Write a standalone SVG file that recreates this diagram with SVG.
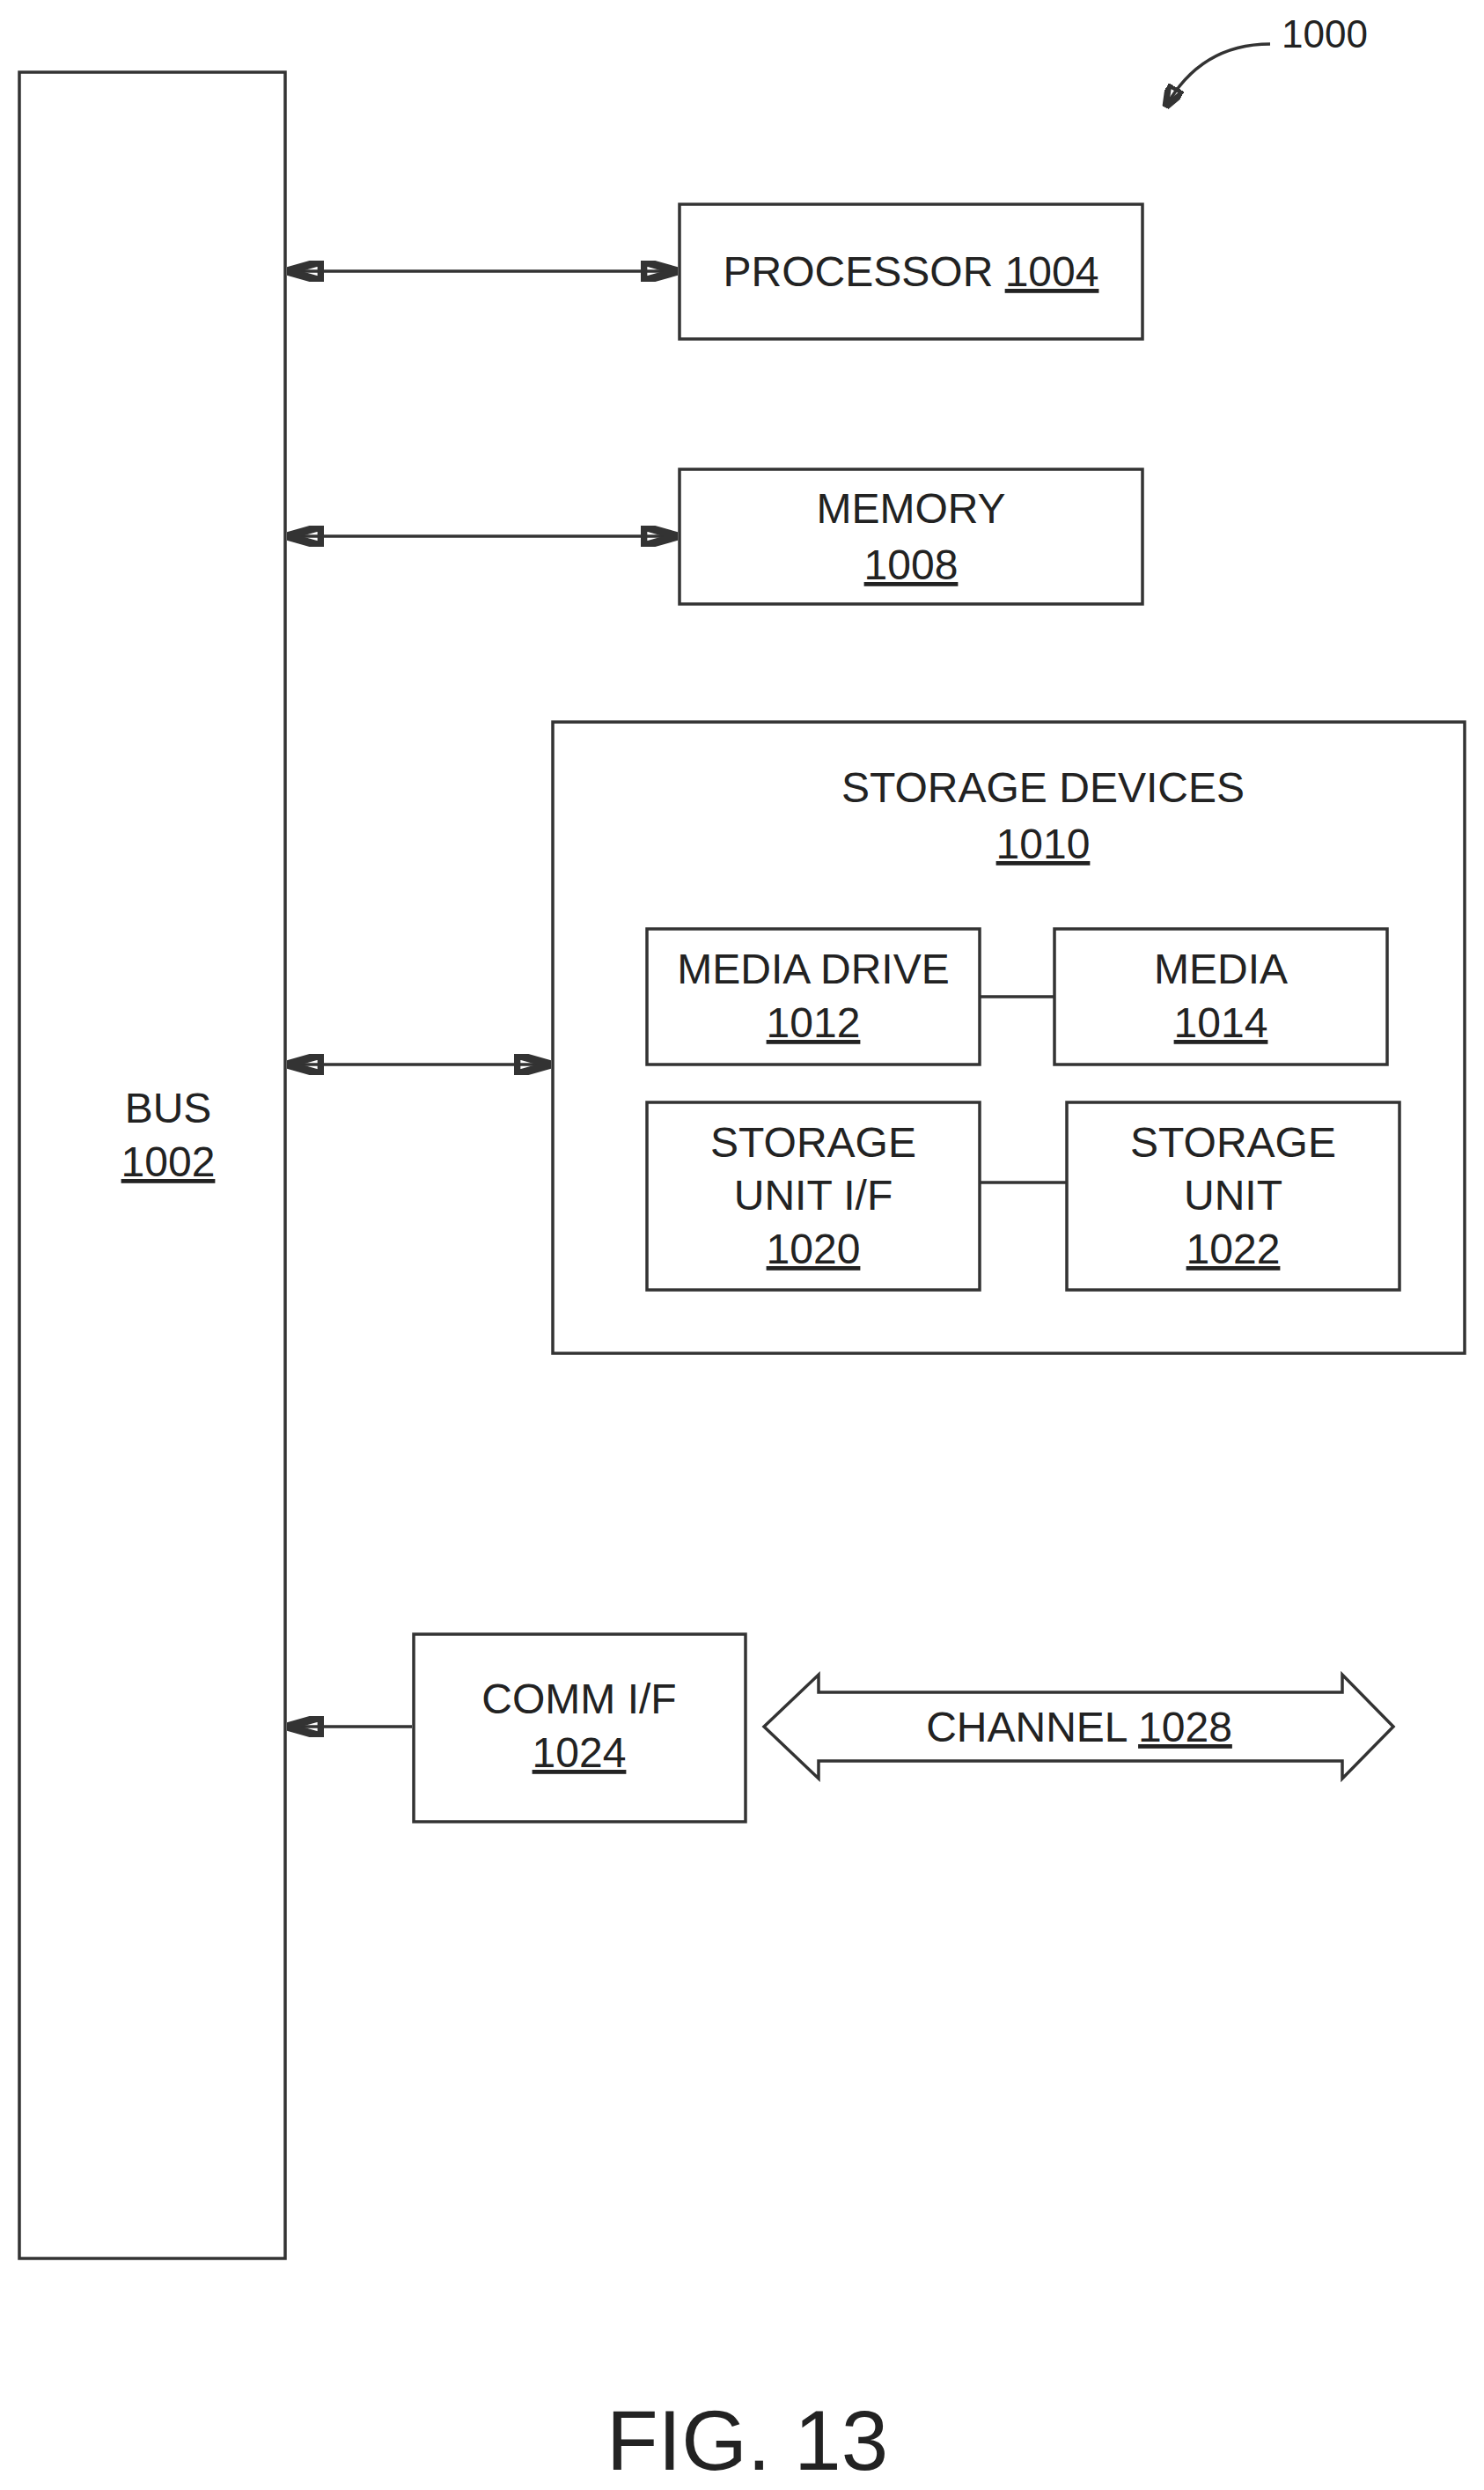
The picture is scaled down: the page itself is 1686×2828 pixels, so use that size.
<svg xmlns="http://www.w3.org/2000/svg" width="1686" height="2828" viewBox="0 0 1686 2828">
<style>
rect{fill:none;stroke:#333;stroke-width:3.5}
text{font-family:"Liberation Sans",Arial,sans-serif;font-size:48px;fill:#222;text-anchor:middle}
.u{text-decoration:underline}
line,path{stroke:#333;stroke-width:3.5;fill:none}
</style>
<defs>
<marker id="ah" viewBox="0 0 10 10" refX="10" refY="5" markerWidth="42" markerHeight="24" markerUnits="userSpaceOnUse" orient="auto-start-reverse" preserveAspectRatio="none">
<path d="M0,0 L10,5 L0,10 z" fill="#666" stroke="none"/>
</marker>
<marker id="ah2" viewBox="0 0 10 10" refX="10" refY="5" markerWidth="26" markerHeight="20" markerUnits="userSpaceOnUse" orient="auto" preserveAspectRatio="none">
<path d="M0,0 L10,5 L0,10 z" fill="#666" stroke="none"/>
</marker>
</defs>
<rect x="0" y="0" width="1686" height="2828" style="fill:#fff;stroke:none"/>
<g id="bus"><rect x="22" y="82" width="302" height="2483"/><text x="191" y="1275">BUS</text><text x="191" y="1336" class="u">1002</text></g>
<g id="processor"><rect x="772" y="232" width="526" height="153"/><text x="1035" y="325">PROCESSOR <tspan class="u">1004</tspan></text></g>
<g id="memory"><rect x="772" y="533" width="526" height="153"/><text x="1035" y="594">MEMORY</text><text x="1035" y="658" class="u">1008</text></g>
<g id="storage"><rect x="628" y="820" width="1036" height="717"/><text x="1185" y="911">STORAGE DEVICES</text><text x="1185" y="975" class="u">1010</text></g>
<g id="mediadrive"><rect x="735" y="1055" width="378" height="154"/><text x="924" y="1117">MEDIA DRIVE</text><text x="924" y="1178" class="u">1012</text></g>
<g id="media"><rect x="1198" y="1055" width="378" height="154"/><text x="1387" y="1117">MEDIA</text><text x="1387" y="1178" class="u">1014</text></g>
<g id="suif"><rect x="735" y="1252" width="378" height="213"/><text x="924" y="1314">STORAGE</text><text x="924" y="1374">UNIT I/F</text><text x="924" y="1435" class="u">1020</text></g>
<g id="su"><rect x="1212" y="1252" width="378" height="213"/><text x="1401" y="1314">STORAGE</text><text x="1401" y="1374">UNIT</text><text x="1401" y="1435" class="u">1022</text></g>
<g id="comm"><rect x="470" y="1856" width="377" height="213"/><text x="658" y="1946">COMM I/F</text><text x="658" y="2007" class="u">1024</text></g>
<g id="channel"><path d="M868,1961 L930,1902 L930,1922 L1525,1922 L1525,1902 L1583,1961 L1525,2020 L1525,2000 L930,2000 L930,2020 Z"/><text x="1226" y="1978">CHANNEL <tspan class="u">1028</tspan></text></g>
<g id="connectors">
<line x1="326" y1="308" x2="770" y2="308" marker-start="url(#ah)" marker-end="url(#ah)"/>
<line x1="326" y1="609" x2="770" y2="609" marker-start="url(#ah)" marker-end="url(#ah)"/>
<line x1="326" y1="1209" x2="626" y2="1209" marker-start="url(#ah)" marker-end="url(#ah)"/>
<line x1="468" y1="1961" x2="326" y2="1961" marker-end="url(#ah)"/>
<line x1="1113" y1="1132" x2="1198" y2="1132"/>
<line x1="1113" y1="1343" x2="1212" y2="1343"/>
<path d="M1443,50 C1390,50 1350,75 1324,122" marker-end="url(#ah2)"/>
</g>
<text x="1505" y="54" style="font-size:44px">1000</text>
<text x="849" y="2805" style="font-size:96px">FIG. 13</text>
</svg>
